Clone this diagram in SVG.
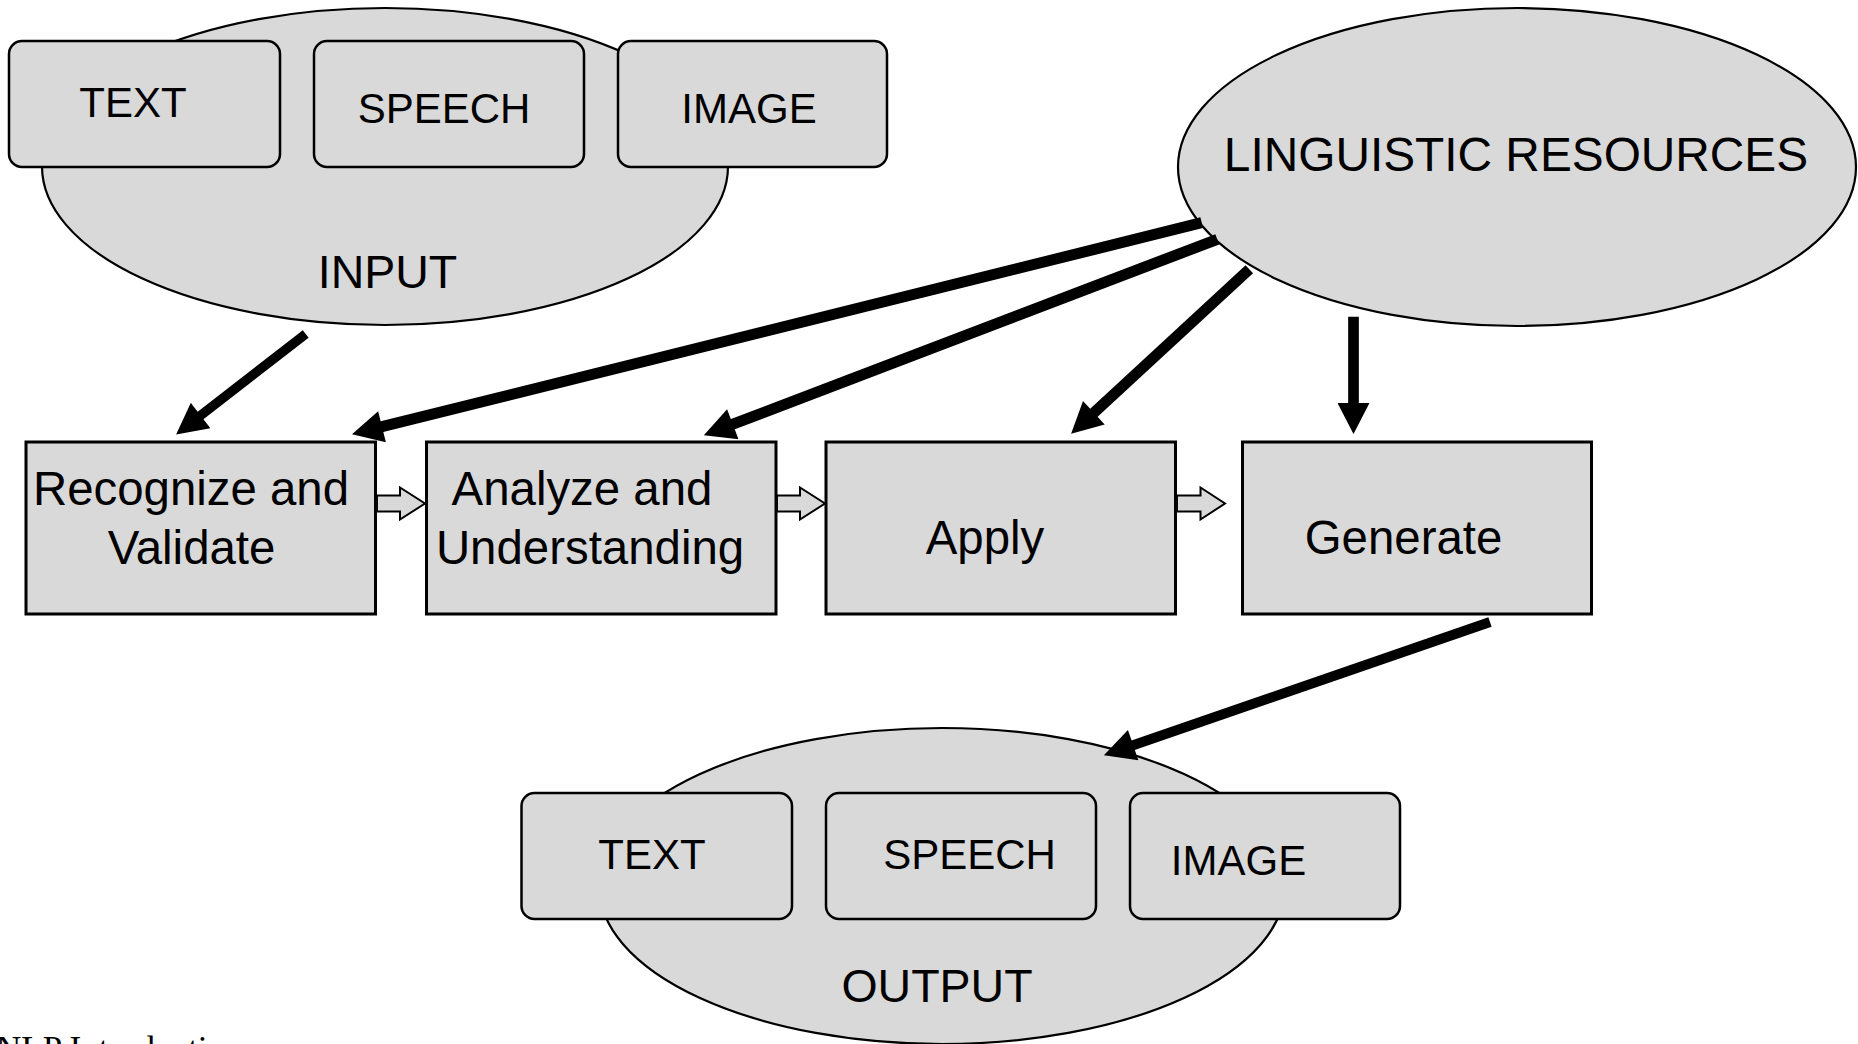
<svg xmlns="http://www.w3.org/2000/svg" width="1858" height="1044" viewBox="0 0 1858 1044">
<style>
  .ell { fill: #d9d9d9; stroke: #000; stroke-width: 2.2; }
  .rbox { fill: #d9d9d9; stroke: #000; stroke-width: 2.5; }
  .pbox { fill: #d9d9d9; stroke: #000; stroke-width: 3; }
  .t42 { font-family: "Liberation Sans", Arial, sans-serif; font-size: 42px; fill: #000; text-anchor: middle; }
  .t46 { font-family: "Liberation Sans", Arial, sans-serif; font-size: 46.5px; fill: #000; text-anchor: middle; }
  .t47 { font-family: "Liberation Sans", Arial, sans-serif; font-size: 47.4px; fill: #000; text-anchor: middle; }
  .t48 { font-family: "Liberation Sans", Arial, sans-serif; font-size: 47.8px; fill: #000; text-anchor: middle; }
  .thick { fill: none; stroke: #000; stroke-linecap: butt; marker-end: url(#head); }
  .hollow { fill: #d9d9d9; stroke: #000; stroke-width: 2; stroke-linejoin: miter; }
  .foot { font-family: "Liberation Serif", "Times New Roman", serif; font-size: 35px; fill: #000; }
</style>
<defs>
  <marker id="head" markerUnits="userSpaceOnUse" markerWidth="32" markerHeight="32" viewBox="0 0 30 31" refX="6" refY="15.5" orient="auto">
    <path d="M0,0 L30,15.5 L0,31 z" fill="#000"/>
  </marker>
</defs>

<g id="input">
  <ellipse class="ell" cx="385" cy="166.5" rx="343" ry="158.5"/>
  <g id="input-text">
    <rect class="rbox" x="9" y="41" width="271" height="126" rx="13" ry="13"/>
    <text class="t42" x="133" y="117">TEXT</text>
  </g>
  <g id="input-speech">
    <rect class="rbox" x="314" y="41" width="270" height="126" rx="13" ry="13"/>
    <text class="t42" x="444" y="123">SPEECH</text>
  </g>
  <g id="input-image">
    <rect class="rbox" x="618" y="41" width="269" height="126" rx="13" ry="13"/>
    <text class="t42" x="749" y="123">IMAGE</text>
  </g>
  <text class="t46" x="387.5" y="288">INPUT</text>
</g>

<g id="linguistic-resources">
  <ellipse class="ell" cx="1517" cy="167" rx="339" ry="159"/>
  <text class="t48" x="1516" y="171">LINGUISTIC RESOURCES</text>
</g>

<g id="recognize">
  <rect class="pbox" x="26" y="442" width="349.5" height="172"/>
  <text class="t47" x="191" y="505">Recognize and</text>
  <text class="t47" x="191.5" y="564">Validate</text>
</g>

<g id="analyze">
  <rect class="pbox" x="426.5" y="442" width="349.5" height="172"/>
  <text class="t47" x="582" y="505">Analyze and</text>
  <text class="t47" x="590" y="564">Understanding</text>
</g>

<g id="apply">
  <rect class="pbox" x="826" y="442" width="349.5" height="172"/>
  <text class="t47" x="985" y="554">Apply</text>
</g>

<g id="generate">
  <rect class="pbox" x="1242.5" y="442" width="349" height="172"/>
  <text class="t47" x="1403.5" y="554">Generate</text>
</g>

<g id="output">
  <ellipse class="ell" cx="942" cy="886" rx="343" ry="158"/>
  <g id="output-text">
    <rect class="rbox" x="521.5" y="793" width="270.5" height="126" rx="13" ry="13"/>
    <text class="t42" x="652" y="869">TEXT</text>
  </g>
  <g id="output-speech">
    <rect class="rbox" x="826" y="793" width="270" height="126" rx="13" ry="13"/>
    <text class="t42" x="969.5" y="869">SPEECH</text>
  </g>
  <g id="output-image">
    <rect class="rbox" x="1130" y="793" width="270" height="126" rx="13" ry="13"/>
    <text class="t42" x="1238.5" y="875">IMAGE</text>
  </g>
  <text class="t46" x="937" y="1002">OUTPUT</text>
</g>

<g id="connectors">
  <line class="thick" stroke-width="9.5" x1="305.7" y1="334" x2="195.7" y2="419.3"/>
  <line class="thick" stroke-width="11" x1="1201.7" y1="222.7" x2="376" y2="428.2"/>
  <line class="thick" stroke-width="11" x1="1217.3" y1="239.3" x2="727" y2="426.4"/>
  <line class="thick" stroke-width="11" x1="1249.3" y1="269.3" x2="1089.3" y2="417"/>
  <line class="thick" stroke-width="10.7" x1="1353.5" y1="316.7" x2="1353.5" y2="409.3"/>
  <line class="thick" stroke-width="10" x1="1490" y1="622" x2="1127.3" y2="747.2"/>
  <polygon class="hollow" points="377,495.5 400,495.5 400,487.5 425,503.5 400,519.5 400,511.5 377,511.5"/>
  <polygon class="hollow" points="777,495.5 800,495.5 800,487.5 825,503.5 800,519.5 800,511.5 777,511.5"/>
  <polygon class="hollow" points="1177,495.5 1200.5,495.5 1200.5,487.5 1225,503.5 1200.5,519.5 1200.5,511.5 1177,511.5"/>
</g>

<text class="foot" x="-4" y="1061">NLP Introduction</text>
</svg>
